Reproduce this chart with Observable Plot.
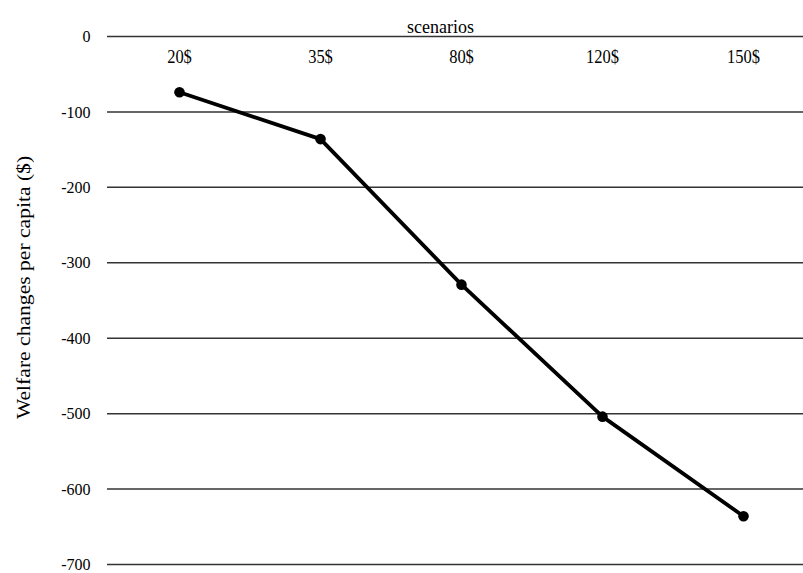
<!DOCTYPE html>
<html><head><meta charset="utf-8">
<script src="https://cdn.jsdelivr.net/npm/d3@7"></script>
<script src="https://cdn.jsdelivr.net/npm/@observablehq/plot@0.6"></script>
<style>
body{margin:0;background:#fff}
</style>
</head><body><div id="chart"></div>
<script>
const scenarios = ["20$", "35$", "80$", "120$", "150$"];
const welfare = [-74, -136, -329, -504, -636];
const yTicks = [0, -100, -200, -300, -400, -500, -600, -700];
const xTitle = "scenarios";
const yTitle = "Welfare changes per capita ($)";
const data = scenarios.map((s, i) => ({scenario: s, value: welfare[i]}));
const FONT = "'Times New Roman', 'Liberation Serif', 'DejaVu Serif', serif";

const chart = Plot.plot({
  width: 803, height: 573,
  marginLeft: 107, marginRight: 0, marginTop: 36, marginBottom: 9,
  style: {background: "#fff", color: "#000", fontFamily: FONT},
  x: {type: "point", domain: scenarios, range: [177, 744], padding: 0, axis: null},
  y: {domain: [-700, 0], label: null},
  marks: [
    Plot.ruleY(yTicks, {stroke: "#333", strokeWidth: 1.5}),
    Plot.axisY({ticks: yTicks, tickSize: 0, tickPadding: 17, tickFormat: d => String(d), fontSize: 16, fontFamily: FONT, label: null}),
    Plot.text(scenarios, {x: d => d, y: () => 0, dy: 20.5, text: d => d, fill: "#000", fontSize: 16.5, fontFamily: FONT}),
    Plot.text([xTitle], {x: () => "80$", frameAnchor: "top", dx: -21, dy: -18, text: d => d, fill: "#000", fontSize: 18, fontFamily: FONT}),
    Plot.text([yTitle], {frameAnchor: "left", textAnchor: "middle", rotate: -90, dx: -83, dy: -13, text: d => d, fill: "#000", fontSize: 18, fontFamily: FONT}),
    Plot.line(data, {x: "scenario", y: "value", stroke: "#000", strokeWidth: 3.8}),
    Plot.dot(data, {x: "scenario", y: "value", r: 5.3, fill: "#000"})
  ]
});
document.getElementById("chart").appendChild(chart);
// the reference's lettering is slightly stretched vertically
d3.select(chart).selectAll("text").each(function(){
  const t = this.getAttribute("transform") || "";
  const s = this.textContent === yTitle ? " scale(1.2,1)" : " scale(1,1.1)";
  this.setAttribute("transform", t + s);
});
</script></body></html>
